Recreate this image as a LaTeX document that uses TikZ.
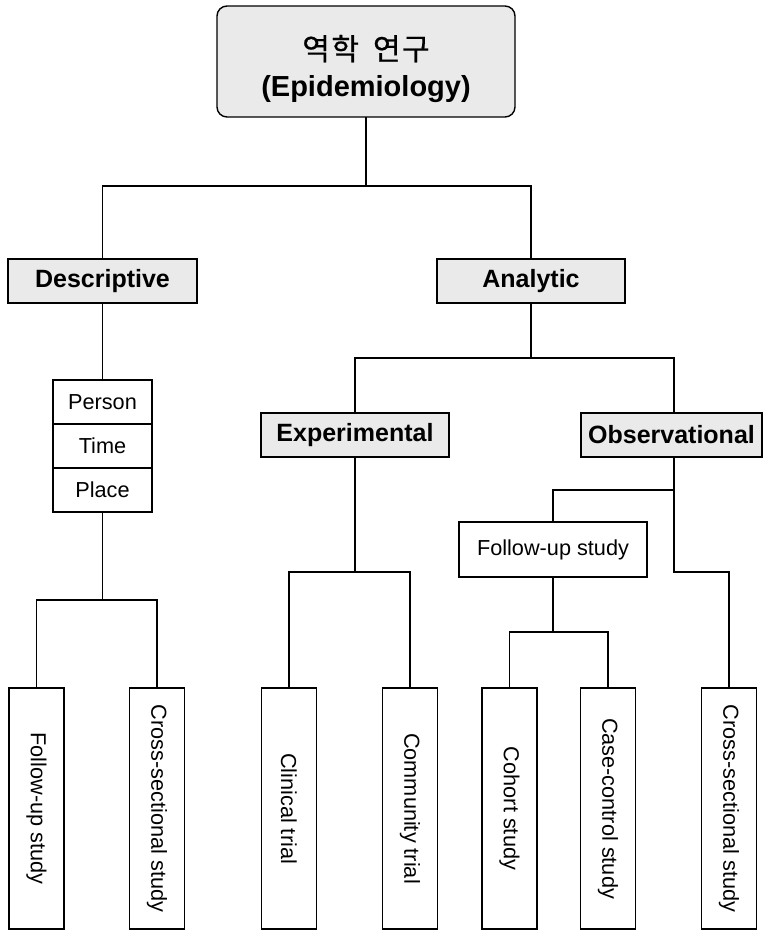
\documentclass[tikz,border=0pt]{standalone}
\usepackage{fontspec}
\usepackage{graphicx}
\setmainfont{Liberation Sans}
\newfontfamily\krfont[FakeBold=0.6]{Noto Sans CJK KR}
\definecolor{boxgray}{RGB}{234,234,234}
\begin{document}
\begin{tikzpicture}[x=1pt,y=-1pt,
  every node/.style={inner sep=0pt, outer sep=0pt},
  line/.style={line width=1.4pt, draw=black},
  titlebox/.style={draw, line width=1.4pt, fill=boxgray, minimum height=44pt,
    font=\fontsize{25}{30}\selectfont\bfseries},
  cellbox/.style={draw, line width=1.4pt, fill=white, minimum width=99pt, minimum height=44pt,
    font=\fontsize{21.7}{26}\selectfont},
  plainbox/.style={draw, line width=1.4pt, fill=white, font=\fontsize{21.7}{26}\selectfont},
  leafbox/.style={draw, line width=1.4pt, fill=white, minimum width=55pt, minimum height=241pt,
    font=\fontsize{21.7}{26}\selectfont}
]
\useasboundingbox (0,0) rectangle (763,930);

% nodes
\node[draw, line width=1.4pt, fill=boxgray, rounded corners=10pt, minimum width=298pt,
  minimum height=111pt, align=center, font=\fontsize{29}{37}\selectfont] (top) at (366,61.5)
  {\rule{0pt}{40pt}{\krfont\fontsize{30}{37}\selectfont 역\kern1.5pt 학\hspace{14pt}연\kern1.5pt 구}\\{\bfseries (Epidemiology)}};

\node[titlebox, minimum width=189pt] (desc) at (102.5,281) {Descriptive};
\node[titlebox, minimum width=188pt] (anal) at (531,281) {Analytic};
\node[titlebox, minimum width=188pt] (exp) at (355,435) {Experimental};
\node[titlebox, minimum width=181pt] (obs) at (671.5,435) {Observational};

\node[cellbox] (person) at (102.5,402) {Person};
\node[cellbox] (time) at (102.5,446) {Time};
\node[cellbox] (place) at (102.5,490) {Place};

\node[plainbox, minimum width=188pt, minimum height=55pt] (fu) at (553,549.5) {Follow-up study};

\node[leafbox] (l1) at (36.5,808.5) {\rotatebox{-90}{Follow-up study}};
\node[leafbox] (l2) at (157,808.5) {\rotatebox{-90}{Cross-sectional study}};
\node[leafbox] (l3) at (289,808.5) {\rotatebox{-90}{Clinical trial}};
\node[leafbox] (l4) at (410,808.5) {\rotatebox{-90}{Community trial}};
\node[leafbox] (l5) at (509.5,808.5) {\rotatebox{-90}{Cohort study}};
\node[leafbox] (l6) at (608,808.5) {\rotatebox{-90}{Case-control study}};
\node[leafbox] (l7) at (729,808.5) {\rotatebox{-90}{Cross-sectional study}};

% bus points
\coordinate (b1) at (366,186);
\coordinate (b2) at (531,358);
\coordinate (b3) at (102.5,600);
\coordinate (b4) at (355,572);
\coordinate (ob1) at (674,490);
\coordinate (ob2) at (674,572);
\coordinate (b5) at (553,632);

% connectors
\draw[line] (top.south) -- (b1);
\draw[line] (desc.north) |- (b1) -| (anal.north);
\draw[line] (desc.south) -- (person.north);
\draw[line] (anal.south) -- (b2);
\draw[line] (exp.north) |- (b2) -| ([xshift=2.5pt]obs.north);
\draw[line] (place.south) -- (b3);
\draw[line] (l1.north) |- (b3) -| (l2.north);
\draw[line] (exp.south) -- (b4);
\draw[line] (l3.north) |- (b4) -| (l4.north);
\draw[line] ([xshift=2.5pt]obs.south) -- (ob2) -| (l7.north);
\draw[line] (ob1) -| (fu.north);
\draw[line] (fu.south) -- (b5);
\draw[line] (l5.north) |- (b5) -| (l6.north);
\end{tikzpicture}
\end{document}
